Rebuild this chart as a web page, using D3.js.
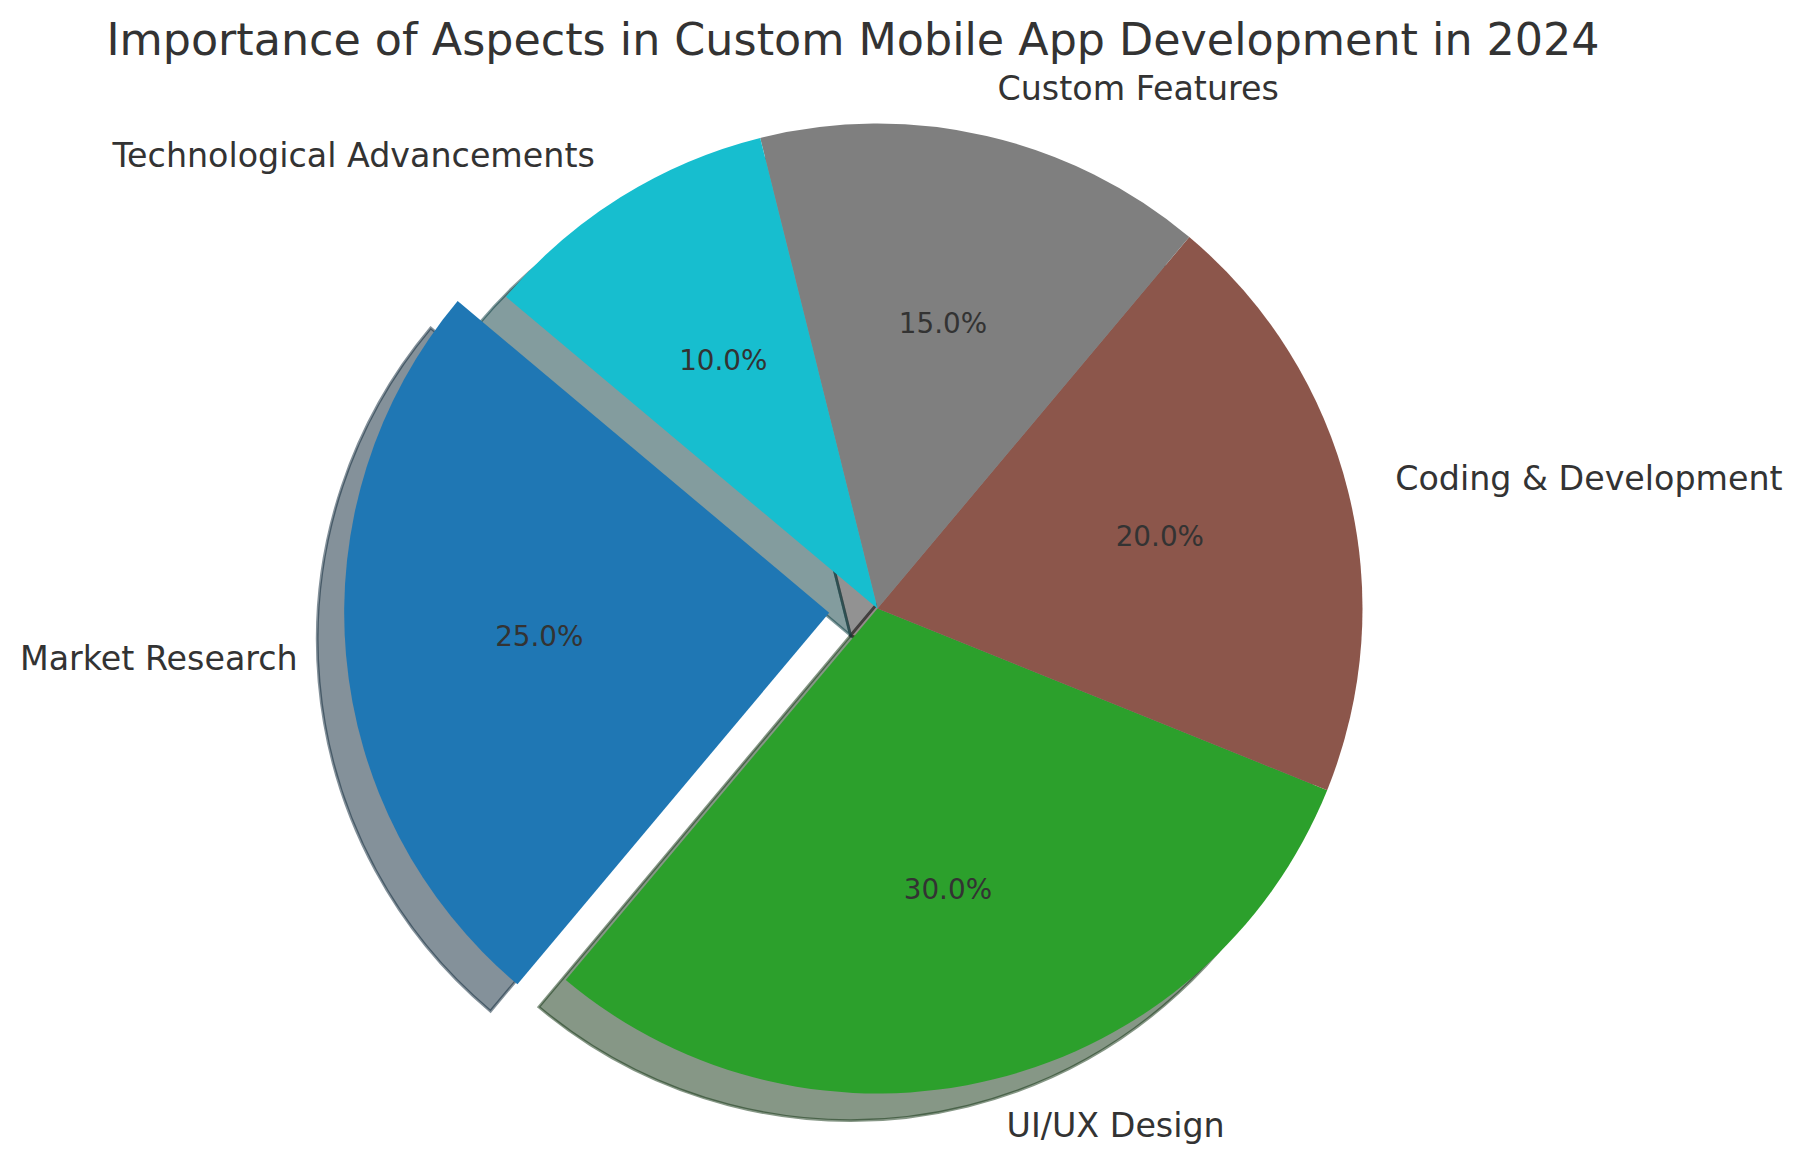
<!DOCTYPE html>
<html>
<head>
<meta charset="utf-8">
<script src="https://cdn.jsdelivr.net/npm/d3@7"></script>
<style>
  html, body { margin: 0; padding: 0; background: #ffffff; }
  svg { display: block; font-family: "DejaVu Sans", sans-serif; }
</style>
</head>
<body>
<div id="chart"></div>
<script>
// Data
const categories = ["Market Research", "UI/UX Design", "Coding & Development", "Custom Features", "Technological Advancements"];
const shares = [25, 30, 20, 15, 10];
const explodeBy = [0.1, 0, 0, 0, 0];
const sliceColors = ["#1f77b4", "#2ca02c", "#8c564b", "#7f7f7f", "#17becf"];
const titleText = "Importance of Aspects in Custom Mobile App Development in 2024";

// Layout (pixels)
const width = 1804, height = 1168;
const cx = 877.5, cy = 608.5, radius = 485;
const startAngleDeg = 140;        // matplotlib style: ccw from 3 o'clock
const shadowShift = 0.02 * 200 / 72;  // in radius units
const labelFont = 33.3, pctFont = 27.8, titleFont = 44.4;
const textColor = "#333333";

// radius units -> pixels
const rScale = d3.scaleLinear().domain([0, 1]).range([0, radius]);

const svg = d3.select("#chart").append("svg")
    .attr("width", width)
    .attr("height", height);

svg.append("rect").attr("width", width).attr("height", height).attr("fill", "#ffffff");

// d3 angles run clockwise from 12 o'clock, so go backwards for ccw
const a0 = (90 - startAngleDeg) * Math.PI / 180;
const pie = d3.pie().sort(null).value(d => d.value)
    .startAngle(a0)
    .endAngle(a0 - 2 * Math.PI);

const slices = pie(categories.map((c, i) => ({
    name: c, value: shares[i], explode: explodeBy[i], color: sliceColors[i]
})));

const arc = d3.arc().innerRadius(0).outerRadius(rScale(1));

// Point on a ray at the given distance (radius units) from the centre
function polar(angle, dist) {
    return [Math.sin(angle) * rScale(dist), -Math.cos(angle) * rScale(dist)];
}
function midAngle(d) { return (d.startAngle + d.endAngle) / 2; }
function offsetOf(d) { return polar(midAngle(d), d.data.explode); }
function shadowColor(d) {
    const c = d3.rgb(d.data.color);
    return d3.rgb(c.r * 0.3, c.g * 0.3, c.b * 0.3).toString();
}

const root = svg.append("g").attr("transform", `translate(${cx},${cy})`);

// Shadows go underneath every wedge
root.append("g").attr("class", "shadows")
    .selectAll("path")
    .data(slices)
    .enter()
    .append("path")
    .attr("transform", d => {
        const o = offsetOf(d);
        return `translate(${o[0] - rScale(shadowShift)},${o[1] + rScale(shadowShift)})`;
    })
    .attr("d", arc)
    .attr("fill", shadowColor)
    .attr("fill-opacity", 0.5)
    .attr("stroke", shadowColor)
    .attr("stroke-opacity", 0.5)
    .attr("stroke-width", 2.78)
    .attr("stroke-linejoin", "miter");

// Wedges
root.append("g").attr("class", "wedges")
    .selectAll("path")
    .data(slices)
    .enter()
    .append("path")
    .attr("transform", d => `translate(${offsetOf(d)})`)
    .attr("d", arc)
    .attr("fill", d => d.data.color);

// Category labels at 1.1 radius, vertically centred like matplotlib
root.append("g").attr("class", "labels")
    .selectAll("text")
    .data(slices)
    .enter()
    .append("text")
    .attr("x", d => offsetOf(d)[0] + polar(midAngle(d), 1.1)[0])
    .attr("y", d => offsetOf(d)[1] + polar(midAngle(d), 1.1)[1] + 0.33 * labelFont)
    .attr("text-anchor", d => polar(midAngle(d), 1.1)[0] > 0 ? "start" : "end")
    .attr("font-size", labelFont)
    .attr("fill", textColor)
    .text(d => d.data.name);

// Percent labels at 0.6 radius
root.append("g").attr("class", "pcts")
    .selectAll("text")
    .data(slices)
    .enter()
    .append("text")
    .attr("x", d => offsetOf(d)[0] + polar(midAngle(d), 0.6)[0])
    .attr("y", d => offsetOf(d)[1] + polar(midAngle(d), 0.6)[1] + 0.30 * pctFont)
    .attr("text-anchor", "middle")
    .attr("font-size", pctFont)
    .attr("fill", textColor)
    .text(d => d.data.value.toFixed(1) + "%");

// Title
svg.append("text")
    .attr("x", 853)
    .attr("y", 55)
    .attr("text-anchor", "middle")
    .attr("font-size", titleFont)
    .attr("fill", textColor)
    .text(titleText);
</script>
</body>
</html>
